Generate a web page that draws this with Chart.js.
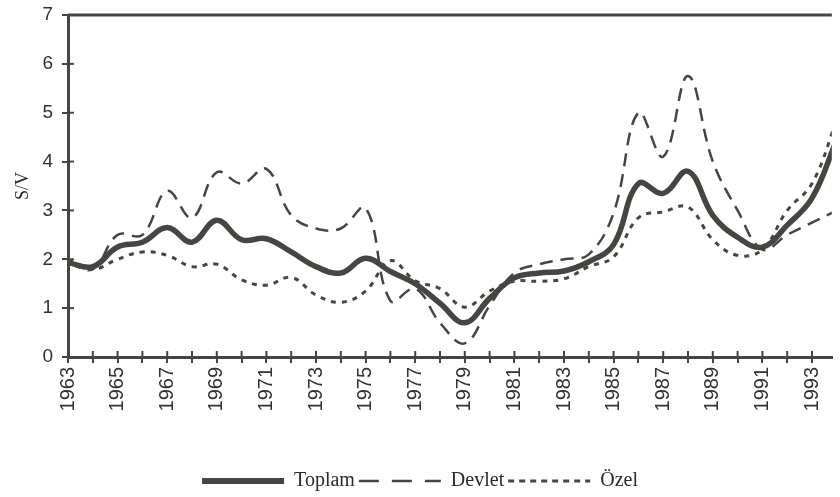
<!DOCTYPE html>
<html>
<head>
<meta charset="utf-8">
<title>S/V 1963-1994</title>
<script src="https://cdn.jsdelivr.net/npm/chart.js@4.4.1/dist/chart.umd.min.js"></script>
<style>
  html, body { margin: 0; padding: 0; background: #fff; }
</style>
</head>
<body>
<canvas id="svChart" width="840" height="497"></canvas>
<script>
// values (S/V ratio)
const years = [1963, 1964, 1965, 1966, 1967, 1968, 1969, 1970, 1971, 1972,
               1973, 1974, 1975, 1976, 1977, 1978, 1979, 1980, 1981, 1982,
               1983, 1984, 1985, 1986, 1987, 1988, 1989, 1990, 1991, 1992,
               1993, 1994];
const toplam = [1.93, 1.85, 2.25, 2.35, 2.65, 2.35, 2.8, 2.4, 2.42, 2.15,
                1.85, 1.72, 2.02, 1.75, 1.5, 1.1, 0.7, 1.2, 1.62, 1.72,
                1.76, 1.95, 2.3, 3.55, 3.35, 3.8, 2.9, 2.45, 2.25, 2.7,
                3.25, 4.45];
const devlet = [1.93, 1.8, 2.5, 2.5, 3.4, 2.85, 3.78, 3.55, 3.85, 2.9,
                2.63, 2.63, 3.05, 1.15, 1.4, 0.7, 0.28, 1.05, 1.72, 1.9,
                2.0, 2.1, 2.95, 5.0, 4.1, 5.75, 4.0, 3.0, 2.2, 2.5,
                2.75, 3.0];
const ozel = [2.0, 1.8, 2.0, 2.15, 2.08, 1.85, 1.9, 1.58, 1.47, 1.63,
              1.27, 1.12, 1.35, 1.97, 1.56, 1.4, 1.02, 1.35, 1.55, 1.55,
              1.6, 1.85, 2.05, 2.85, 2.97, 3.07, 2.4, 2.08, 2.2, 3.0,
              3.55, 4.85];

const ink = "#46453f";

// legend samples are drawn by hand (the built-in point style ignores dashes)
const legendDash = [[], [20, 13], [6, 5]];
const legendWidth = [6, 2.5, 3];

function points(vals) {
    return years.map((yr, i) => ({ x: yr, y: vals[i] }));
}

// tick marks that cross the axes, the top frame line, legend samples
const axisMarks = {
    id: "axisMarks",
    afterDraw(chart) {
        const { ctx, chartArea, scales } = chart;
        ctx.save();
        ctx.strokeStyle = ink;
        ctx.lineWidth = 2;
        scales.x.ticks.forEach(t => {
            const px = scales.x.getPixelForValue(t.value);
            ctx.beginPath();
            ctx.moveTo(px, chartArea.bottom);
            ctx.lineTo(px, chartArea.bottom - 6);
            ctx.stroke();
        });
        scales.y.ticks.forEach(t => {
            const py = scales.y.getPixelForValue(t.value);
            ctx.beginPath();
            ctx.moveTo(chartArea.left, py);
            ctx.lineTo(chartArea.left + 6, py);
            ctx.stroke();
        });
        ctx.lineWidth = 3;
        ctx.beginPath();
        ctx.moveTo(chartArea.left, chartArea.top);
        ctx.lineTo(chartArea.right, chartArea.top);
        ctx.stroke();

        (chart.legend.legendHitBoxes || []).forEach((box, i) => {
            const y = box.top + box.height / 2;
            ctx.lineWidth = legendWidth[i];
            ctx.lineCap = "butt";
            ctx.setLineDash(legendDash[i]);
            ctx.beginPath();
            ctx.moveTo(box.left, y);
            ctx.lineTo(box.left + 82, y);
            ctx.stroke();
        });
        ctx.restore();
    }
};

const ctx = document.getElementById("svChart").getContext("2d");

new Chart(ctx, {
    type: "line",
    data: {
        datasets: [
            {
                label: "Toplam",
                data: points(toplam),
                borderColor: ink,
                borderWidth: 5.5,
                tension: 0.4,
                pointRadius: 0
            },
            {
                label: "Devlet",
                data: points(devlet),
                borderColor: ink,
                borderWidth: 2.5,
                borderDash: [13, 8],
                tension: 0.4,
                pointRadius: 0
            },
            {
                label: "Özel",
                data: points(ozel),
                borderColor: ink,
                borderWidth: 3,
                borderDash: [5, 6],
                tension: 0.4,
                pointRadius: 0
            }
        ]
    },
    options: {
        responsive: false,
        animation: false,
        devicePixelRatio: 1,
        layout: {
            padding: { top: 15, right: 0, bottom: -4, left: 0 }
        },
        plugins: {
            legend: {
                display: true,
                position: "bottom",
                labels: {
                    usePointStyle: true,
                    pointStyle: "line",
                    pointStyleWidth: 82,
                    padding: 4,
                    color: "#2b2a26",
                    font: { family: "Liberation Serif", size: 20 },
                    generateLabels: chart =>
                        Chart.defaults.plugins.legend.labels.generateLabels(chart)
                            .map(item => ({ ...item, strokeStyle: "rgba(0,0,0,0)", lineWidth: 0 }))
                }
            },
            tooltip: { enabled: false }
        },
        scales: {
            x: {
                type: "linear",
                min: 1963,
                max: 1993.8,
                afterFit: scale => { scale.height = 110; },
                grid: {
                    drawOnChartArea: false,
                    drawTicks: true,
                    tickLength: 6,
                    color: ink,
                    lineWidth: 2
                },
                border: { display: true, color: ink, width: 3 },
                ticks: {
                    stepSize: 1,
                    includeBounds: false,
                    autoSkip: false,
                    minRotation: 90,
                    maxRotation: 90,
                    padding: 4,
                    color: "#333230",
                    font: { family: "Liberation Sans", size: 20 },
                    callback: v => (v % 2 === 1 ? String(v) : "")
                }
            },
            y: {
                min: 0,
                max: 7,
                afterFit: scale => {
                    scale.width = 68;
                    scale.paddingTop = 0;
                    scale.paddingBottom = 0;
                },
                grid: {
                    drawOnChartArea: false,
                    drawTicks: true,
                    tickLength: 6,
                    color: ink,
                    lineWidth: 2
                },
                border: { display: true, color: ink, width: 3 },
                ticks: {
                    stepSize: 1,
                    padding: 9,
                    color: "#333230",
                    font: { family: "Liberation Sans", size: 19 }
                },
                title: {
                    display: true,
                    text: "S/V",
                    color: "#2b2a26",
                    padding: { top: 12, bottom: 0 },
                    font: { family: "Liberation Serif", size: 18 }
                }
            }
        }
    },
    plugins: [axisMarks]
});
</script>
</body>
</html>
